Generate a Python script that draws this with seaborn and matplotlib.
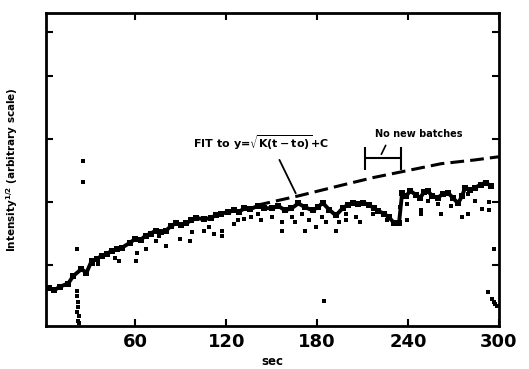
import matplotlib
matplotlib.use("Agg")
import matplotlib.pyplot as plt
import seaborn as sns
import pandas as pd

# ---- data ----
trace_t = [2.9, 6.2, 10.0, 15.6, 19.0, 24.4, 27.7, 31.1, 34.5, 37.8, 41.0, 44.5, 48.0, 51.3,
           56.6, 60.0, 63.5, 66.7, 70.0, 73.4, 77.0, 80.2, 83.5, 86.9, 90.0, 93.6, 97.0,
           100.3, 105.0, 109.7, 113.0, 116.5, 121.0, 125.2, 128.5, 131.9, 136.0, 140.7,
           145.0, 150.1, 154.5, 158.8, 163.0, 167.6, 172.0, 177.0, 180.5, 183.7, 188.0,
           192.4, 197.1, 200.5, 203.9, 207.0, 210.6, 214.0, 217.3, 220.5, 224.0, 227.5,
           230.8, 234.1, 236.1, 238.5, 241.5, 245.0, 248.2, 250.5, 252.9, 256.0, 259.7,
           263.0, 266.4, 270.0, 273.1, 275.5, 277.8, 281.0, 284.5, 288.0, 291.3, 294.6]
trace_y = [0.60, 0.56, 0.62, 0.67, 0.79, 0.90, 0.84, 1.03, 1.06, 1.11, 1.14, 1.19, 1.21, 1.24,
           1.32, 1.38, 1.36, 1.43, 1.46, 1.51, 1.49, 1.51, 1.58, 1.63, 1.60, 1.63, 1.67,
           1.71, 1.69, 1.71, 1.75, 1.78, 1.80, 1.83, 1.81, 1.86, 1.85, 1.90,
           1.87, 1.86, 1.90, 1.83, 1.86, 1.94, 1.88, 1.83, 1.88, 1.95, 1.84,
           1.75, 1.87, 1.92, 1.95, 1.93, 1.95, 1.92, 1.87, 1.82, 1.78, 1.72,
           1.63, 1.63, 2.10, 2.05, 2.14, 2.08, 2.03, 2.12, 2.14, 2.06, 2.03,
           2.09, 2.11, 2.02, 1.94, 2.05, 2.19, 2.15, 2.19, 2.24, 2.27, 2.22]

dots_t = [60.2, 61.3, 66.9, 73.7, 75.9, 80.4, 89.4, 96.1, 97.2, 105.0, 108.4, 111.8, 117.4,
          117.4, 125.2, 127.5, 131.9, 136.4, 140.9, 143.1, 149.9, 156.6, 156.6, 163.3,
          165.5, 170.0, 172.3, 174.5, 179.0, 183.5, 185.7, 192.4, 194.7, 199.2, 199.2,
          205.9, 208.1, 217.1, 226.1, 235.0, 239.5, 239.5, 248.5, 252.9, 259.7, 261.9,
          268.6, 275.4, 279.8, 284.3, 288.8, 293.3, 293.3, 279.8, 248.5,
          32.2, 35.6, 46.8, 49.0, 21.7, 25.5, 25.5, 184.6, 296.6,
          21.5, 21.5, 21.8, 22.3, 21.5, 22.5, 21.8, 22.8,
          293.0, 295.5, 296.5, 297.5, 298.5]
dots_y = [1.03, 1.16, 1.22, 1.35, 1.43, 1.27, 1.38, 1.35, 1.48, 1.51, 1.56, 1.46, 1.51,
          1.43, 1.61, 1.67, 1.69, 1.72, 1.77, 1.67, 1.72, 1.51, 1.64, 1.72,
          1.64, 1.77, 1.51, 1.67, 1.56, 1.72, 1.64, 1.51, 1.64, 1.77, 1.67,
          1.72, 1.64, 1.77, 1.67, 1.88, 1.67, 1.93, 1.83, 1.98, 1.93, 1.77,
          1.90, 1.72, 1.77, 1.98, 1.85, 1.83, 1.96, 2.09, 1.77,
          0.98, 0.98, 1.08, 1.03, 1.22, 2.62, 2.28, 0.40, 1.22,
          0.55, 0.47, 0.38, 0.30, 0.22, 0.15, 0.08, 0.05,
          0.53, 0.43, 0.38, 0.34, 0.31]

fit_t = [140.0, 167.8, 194.7, 217.1, 239.5, 261.9, 284.3, 300.0]
fit_y = [1.91, 2.06, 2.22, 2.35, 2.46, 2.57, 2.63, 2.68]

nobatch_start, nobatch_end, bracket_y = 211.5, 235.7, 2.66

xticks = [60, 120, 180, 240, 300]
xtick_labels = ["60", "120", "180", "240", "300"]
yticks = [0.96, 1.96, 2.96, 3.96, 4.66]

# ---- plot ----
sns.set_style("ticks")
plt.rcParams.update({
    "font.family": ["DejaVu Sans"],
    "axes.edgecolor": "black",
    "xtick.color": "black",
    "ytick.color": "black",
    "text.color": "black",
    "axes.labelcolor": "black",
})

fig = plt.figure(figsize=(5.29, 3.69), dpi=100)
ax = fig.add_axes([0.087, 0.117, 0.856, 0.848])

trace = pd.DataFrame({"t": trace_t, "y": trace_y})
dots = pd.DataFrame({"t": dots_t, "y": dots_y})
fit = pd.DataFrame({"t": fit_t, "y": fit_y})

sns.lineplot(data=trace, x="t", y="y", ax=ax, color="black", lw=2.8,
             sort=False, estimator=None)
sns.scatterplot(data=trace, x="t", y="y", ax=ax, color="black", s=14,
                marker="s", linewidth=0)
sns.scatterplot(data=dots, x="t", y="y", ax=ax, color="black", s=5,
                marker="s", linewidth=0)
sns.lineplot(data=fit, x="t", y="y", ax=ax, color="black", lw=2.2,
             linestyle=(0, (4.5, 2.0)), sort=False, estimator=None)

ax.set_xlim(1, 300)
ax.set_ylim(0, 4.96)
ax.set_xticks(xticks)
ax.set_xticklabels(xtick_labels, fontsize=13, fontweight="bold")
ax.set_yticks(yticks)
ax.set_yticklabels([])
ax.tick_params(direction="in", length=5, width=1.5, top=True, right=True,
               pad=5, colors="black")
for s in ax.spines.values():
    s.set_linewidth(2)
    s.set_color("black")

ax.set_xlabel("sec", fontsize=8.5, fontweight="bold", labelpad=3)
ax.set_ylabel(r"Intensity$^{\mathbf{1/2}}$ (arbitrary scale)", fontsize=7.5,
              fontweight="bold", labelpad=14)

ax.text(143, 2.91, r"FIT to y=$\sqrt{\mathbf{K(t-to)}}$+C", ha="center",
        va="center", fontsize=8, fontweight="bold")
ax.annotate("", xy=(166.7, 2.06), xytext=(154.3, 2.67),
            arrowprops=dict(arrowstyle="-", lw=1.3, color="black"))

ax.text(247, 3.04, "No new batches", ha="center", va="center",
        fontsize=7, fontweight="bold")
ax.hlines(bracket_y, nobatch_start, nobatch_end, color="black", lw=1.5)
ax.vlines([nobatch_start, nobatch_end], bracket_y - 0.19, bracket_y + 0.17,
          color="black", lw=1.5)
ax.annotate("", xy=(221.6, 2.68), xytext=(226.1, 2.90),
            arrowprops=dict(arrowstyle="-", lw=1.2, color="black"))

fig.savefig("out.png", dpi=100)
